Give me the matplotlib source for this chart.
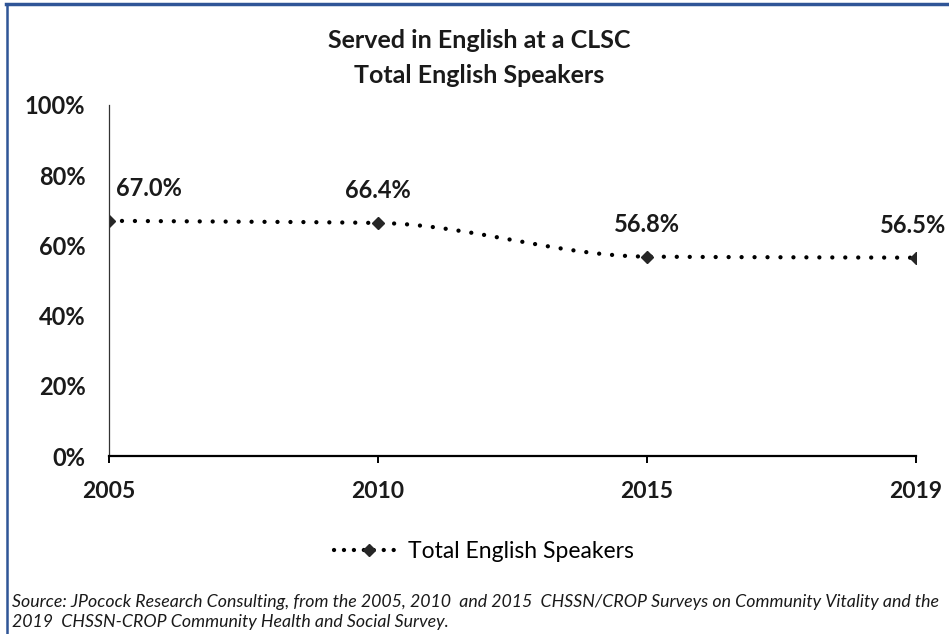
import numpy as np
import matplotlib.pyplot as plt
from matplotlib.lines import Line2D

# data ----------------------------------------------
years = ['2005', '2010', '2015', '2019']
share = [67.0, 66.4, 56.8, 56.5]
series_name = 'Total English Speakers'
title = 'Served in English at a CLSC\nTotal English Speakers'
source = ('Source: JPocock Research Consulting, from the 2005, 2010  and 2015  CHSSN/CROP Surveys on '
          'Community Vitality and the\n2019  CHSSN-CROP Community Health and Social Survey.')

plt.rcParams['font.family'] = ['Lato', 'DejaVu Sans']

W, H = 949, 634
fig = plt.figure(figsize=(W / 100, H / 100), dpi=100)
ax = fig.add_axes([109 / W, 1 - 456 / H, (916 - 109) / W, (456 - 105) / H])

x = np.arange(len(years), dtype=float)
y = np.array(share)


# smoothed line without overshoot (monotone cubic)--
def smooth(px, py, n=80):
    h = np.diff(px)
    d = np.diff(py) / h
    m = np.zeros_like(py)
    m[0], m[-1] = d[0], d[-1]
    for k in range(1, len(py) - 1):
        if d[k - 1] * d[k] > 0:
            m[k] = 2 / (1 / d[k - 1] + 1 / d[k])
    xs, ys = [], []
    for k in range(len(px) - 1):
        t = np.linspace(0, 1, n)
        h00 = 2 * t ** 3 - 3 * t ** 2 + 1
        h10 = t ** 3 - 2 * t ** 2 + t
        h01 = -2 * t ** 3 + 3 * t ** 2
        h11 = t ** 3 - t ** 2
        seg = h00 * py[k] + h10 * h[k] * m[k] + h01 * py[k + 1] + h11 * h[k] * m[k + 1]
        xs.append(px[k] + t * h[k])
        ys.append(seg)
    return np.concatenate(xs), np.concatenate(ys)


sx, sy = smooth(x, y)
ax.plot(sx, sy, color='black', lw=3.1, linestyle=(0, (0.01, 3.0)),
        dash_capstyle='round')
ax.plot(x, y, linestyle='none', marker='D', ms=6, color='#262626')

# data labels
offsets = [(29, 15), (0, 15), (0, 15), (-2, 15)]
for xi, yi, (dx, dy) in zip(x, y, offsets):
    ax.annotate(f'{yi:.1f}%', (xi, yi), xytext=(dx, dy), textcoords='offset points',
                ha='center', va='bottom', fontsize=17, fontweight='bold', color='#1a1a1a')

ax.set_xlim(0, len(years) - 1)
ax.set_ylim(0, 100)
ax.set_yticks(np.arange(0, 101, 20))
ax.set_yticklabels([f'{v}%' for v in range(0, 101, 20)])
ax.set_xticks(x)
ax.set_xticklabels(years)
ax.tick_params(axis='y', length=0, pad=17, labelsize=17)
ax.tick_params(axis='x', length=5, width=1.4, direction='out', pad=13, labelsize=16.5)
for lab in ax.get_xticklabels() + ax.get_yticklabels():
    lab.set_fontweight('bold')
    lab.set_color('#1a1a1a')
ax.spines['top'].set_visible(False)
ax.spines['right'].set_visible(False)
ax.spines['left'].set_linewidth(0.9)
ax.spines['bottom'].set_linewidth(1.6)
ax.spines['left'].set_color('#333333')
ax.spines['bottom'].set_color('black')

fig.text(479 / W, 1 - 58 / H, title, ha='center', va='center', fontsize=18,
         fontweight='bold', linespacing=1.6, color='#1a1a1a')

# legend
leg_handle = Line2D([], [], color='black', lw=3.1, linestyle=(0, (0.01, 2.3)),
                    dash_capstyle='round', marker='D', ms=6, markerfacecolor='#262626',
                    markeredgecolor='#262626')
fig.legend([leg_handle], [series_name], loc='center', bbox_to_anchor=(484 / W, 1 - 552 / H),
           frameon=False, fontsize=16.5, handlelength=3.0, handletextpad=0.2)

fig.text(12 / W, 1 - 612 / H, source, ha='left', va='center', fontsize=12.8,
         style='italic', linespacing=1.3, color='#1a1a1a')

# blue frame (only top and left edges visible)
fig.add_artist(Line2D([6 / W, 1], [1 - 4 / H, 1 - 4 / H], color='#2F5597', lw=2.5))
fig.add_artist(Line2D([7 / W, 7 / W], [0, 1 - 4 / H], color='#2F5597', lw=1.8))

fig.savefig('out.png', dpi=100)
